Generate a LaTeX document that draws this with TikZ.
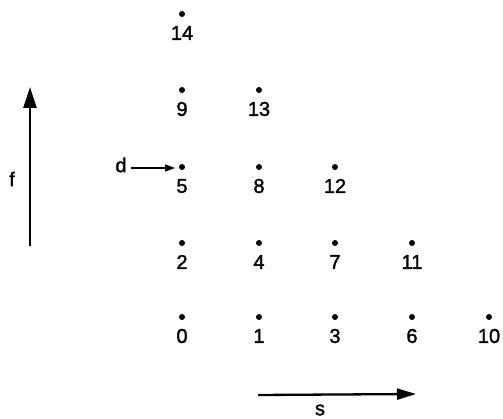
\documentclass[tikz,border=0pt]{standalone}
\usepackage{fontspec}
\setmainfont[FakeBold=1.6]{Liberation Sans}
\usetikzlibrary{arrows.meta}
\begin{document}
\begin{tikzpicture}[x=1pt,y=-1pt,
  pt/.style={circle,fill=black,inner sep=0pt,minimum size=6pt},
  lab/.style={inner sep=0pt,font=\fontsize{20}{20}\selectfont},
  axis/.style={line width=2.5pt,-{Triangle[length=21pt,width=13pt]}},
  small/.style={line width=1.4pt,-{Triangle[length=10pt,width=7pt]}}]
\useasboundingbox (0,0) rectangle (503,419);
% grid points
\foreach \n/\x/\y in {0/182/317,1/259/317,3/335/317,6/412/317,10/489/317,
  2/182/243,4/259/243,7/335/243,11/412/243,
  5/182/167,8/259/167,12/335/167,
  9/182/90,13/259/90,
  14/182/14}{
  \node[pt] (p\n) at (\x,\y) {};
  \node[lab] (l\n) at (\x,\y+19) {\n};
}
% f axis
\coordinate (fa) at (30,246);
\coordinate (fb) at (30,87);
\draw[axis] (fa) -- (fb);
\node[lab] (f) at (12,179) {f};
% d arrow
\node[lab] (d) at (121,165) {d};
\coordinate (ds) at (131,168);
\coordinate (de) at (175,168);
\draw[small] (ds) -- (de);
% s axis
\coordinate (sa) at (258,395);
\coordinate (sb) at (416,394);
\draw[axis,line width=2.3pt,-{Triangle[length=19pt,width=11pt]}] (sa) -- (sb);
\node[lab] (s) at (320,410) {s};
\end{tikzpicture}
\end{document}
